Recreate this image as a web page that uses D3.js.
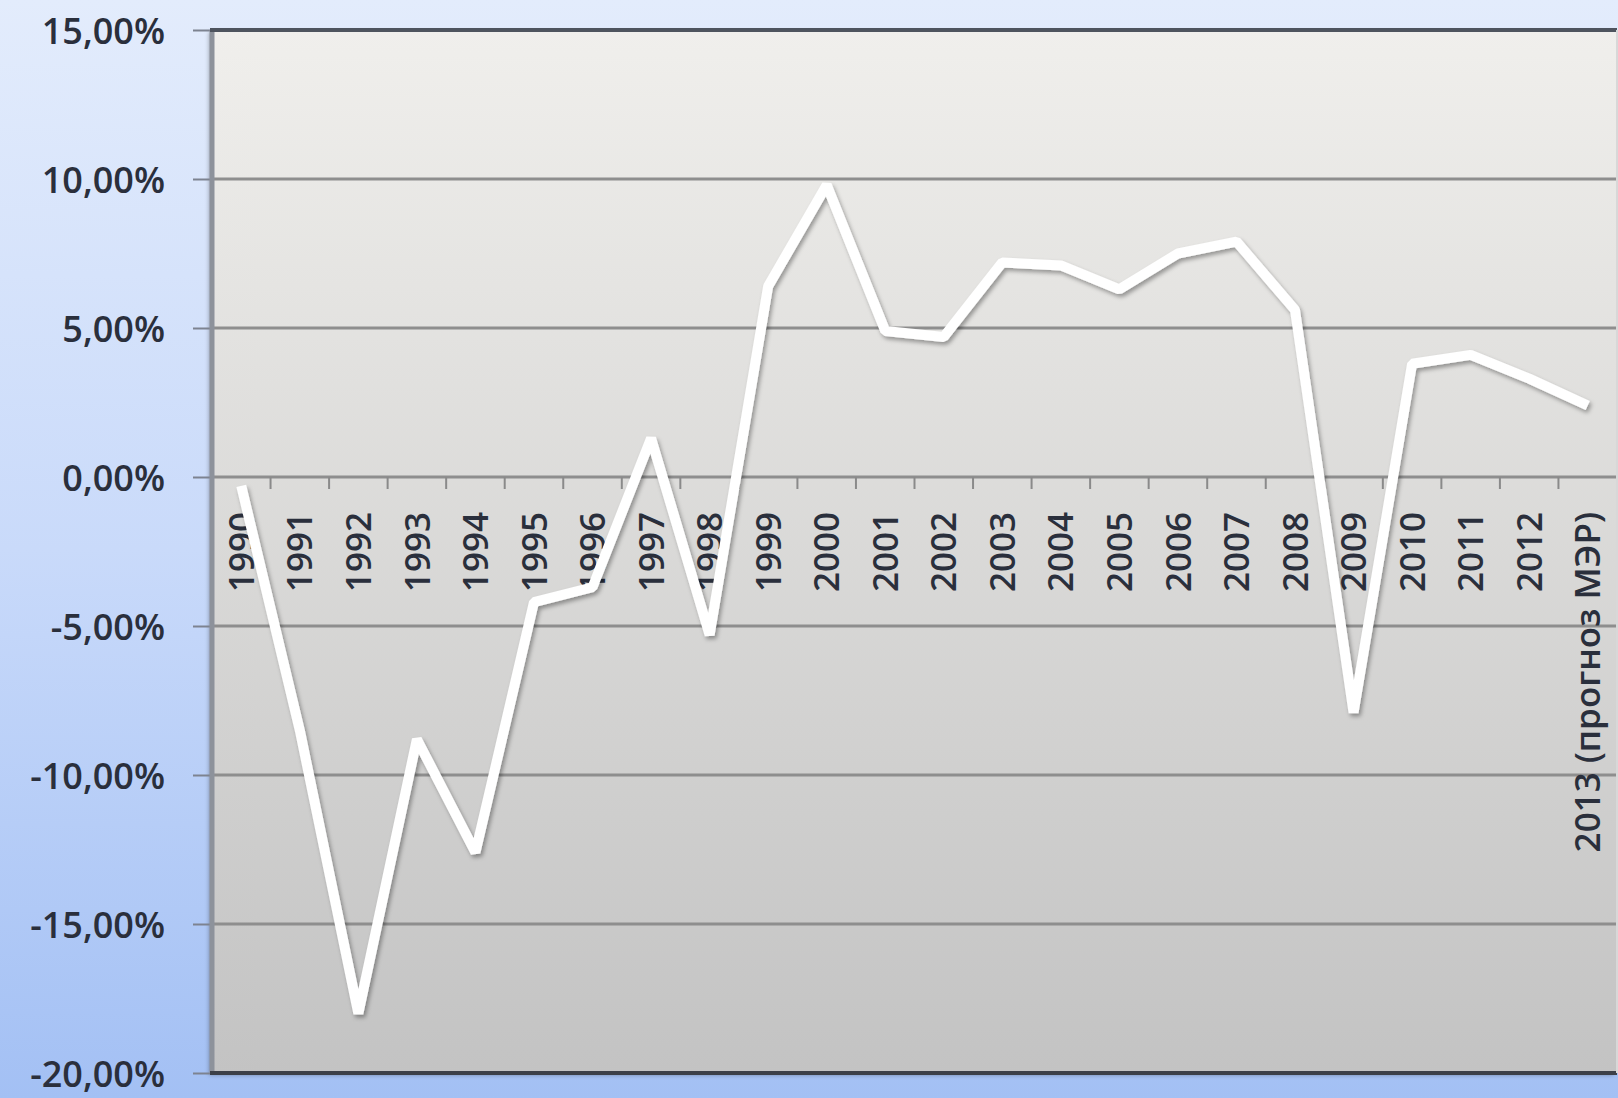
<!DOCTYPE html>
<html>
<head>
<meta charset="utf-8">
<script src="https://cdn.jsdelivr.net/npm/d3@7"></script>
<style>
    html, body { margin: 0; padding: 0; overflow: hidden; }
    svg { display: block; }
</style>
</head>
<body>
<div id="chart"></div>
<script>
// годы (категории)
const years = ['1990', '1991', '1992', '1993', '1994', '1995', '1996', '1997', '1998', '1999',
    '2000', '2001', '2002', '2003', '2004', '2005', '2006', '2007', '2008', '2009',
    '2010', '2011', '2012', '2013 (прогноз МЭР)'];
// темп роста ВВП, %
const growth = [-0.3, -8.5, -18.0, -8.8, -12.6, -4.2, -3.7, 1.3, -5.3, 6.4,
    9.8, 4.9, 4.7, 7.2, 7.1, 6.3, 7.5, 7.9, 5.6, -7.9,
    3.8, 4.1, 3.3, 2.4];
// деления оси Y
const yTicks = [-20, -15, -10, -5, 0, 5, 10, 15];

const width = 1618;
const height = 1098;
const margin = { top: 30, left: 212, bottom: 25, right: 1 };

const ru = d3.formatLocale({ decimal: ',', thousands: ' ', grouping: [3], currency: ['', ''], minus: '-' });
const fmt = v => ru.format('.2f')(v) + '%';

const x = d3.scaleBand()
    .domain(years)
    .range([margin.left, width - margin.right])
    .paddingInner(0).paddingOuter(0);
const y = d3.scaleLinear()
    .domain([-20, 15])
    .range([height - margin.bottom, margin.top]);

const svg = d3.select('#chart')
    .append('svg')
    .attr('width', width)
    .attr('height', height);

const defs = svg.append('defs');
// фон диаграммы
const bg = defs.append('linearGradient').attr('id', 'bg')
    .attr('x1', 0).attr('y1', 0).attr('x2', 0).attr('y2', 1);
bg.append('stop').attr('offset', '0%').attr('stop-color', '#e3ecfc');
bg.append('stop').attr('offset', '50%').attr('stop-color', '#c9dafa');
bg.append('stop').attr('offset', '100%').attr('stop-color', '#a3c0f4');
// фон области построения
const pg = defs.append('linearGradient').attr('id', 'plotbg')
    .attr('x1', 0).attr('y1', 0).attr('x2', 0).attr('y2', 1);
pg.append('stop').attr('offset', '0%').attr('stop-color', '#f0efec');
pg.append('stop').attr('offset', '100%').attr('stop-color', '#c3c3c3');
// тень линии
defs.append('filter').attr('id', 'shadow')
    .attr('x', '-5%').attr('y', '-5%').attr('width', '110%').attr('height', '110%')
    .append('feDropShadow')
    .attr('dx', 2).attr('dy', 3).attr('stdDeviation', 2)
    .attr('flood-color', '#000').attr('flood-opacity', 0.35);
defs.append('filter').attr('id', 'frameShadow')
    .attr('x', '-5%').attr('y', '-5%').attr('width', '110%').attr('height', '110%')
    .append('feDropShadow')
    .attr('dx', -3).attr('dy', 2).attr('stdDeviation', 2)
    .attr('flood-color', '#000').attr('flood-opacity', 0.3);

svg.append('rect')
    .attr('width', width).attr('height', height)
    .attr('fill', 'url(#bg)');

const x0 = margin.left, x1 = width - margin.right;
const yTop = y(15), yBot = y(-20);

svg.append('rect')
    .attr('x', x0).attr('y', yTop)
    .attr('width', x1 - x0).attr('height', yBot - yTop)
    .attr('fill', 'url(#plotbg)')
    .attr('filter', 'url(#frameShadow)');

// сетка
svg.append('g')
    .selectAll('line')
    .data(yTicks.filter(d => d > -20 && d < 15))
    .join('line')
    .attr('x1', x0).attr('x2', x1)
    .attr('y1', d => y(d)).attr('y2', d => y(d))
    .attr('stroke', '#8e8e8e')
    .attr('stroke-width', 3);

// ось Y
const yAxis = g => g
    .attr('transform', `translate(${x0},0)`)
    .call(d3.axisLeft(y).tickValues(yTicks).tickFormat(fmt).tickSize(19).tickPadding(28))
    .call(g => g.select('.domain').remove())
    .call(g => g.selectAll('.tick line').attr('stroke', '#7d8390').attr('stroke-width', 2))
    .call(g => g.selectAll('.tick text')
        .attr('fill', '#2a2f3c')
        .attr('dy', '0.38em')
        .style('font-family', '"Open Sans", "Liberation Sans", sans-serif')
        .style('font-weight', 600)
        .style('font-size', '36px'));
svg.append('g').call(yAxis);

// деления оси X (между категориями)
svg.append('g')
    .selectAll('line')
    .data(years.slice(1))
    .join('line')
    .attr('x1', d => x(d)).attr('x2', d => x(d))
    .attr('y1', y(0)).attr('y2', y(0) + 12)
    .attr('stroke', '#8a8a8a')
    .attr('stroke-width', 2);

// подписи оси X
svg.append('g')
    .selectAll('text')
    .data(years)
    .join('text')
    .attr('transform', d => `translate(${x(d) + x.bandwidth() / 2},${y(0) + 35}) rotate(-90)`)
    .attr('text-anchor', 'end')
    .attr('dy', '0.36em')
    .attr('fill', '#2a2f3c')
    .style('font-family', '"Open Sans", "Liberation Sans", sans-serif')
    .style('font-weight', 600)
    .style('font-size', '35px')
    .text(d => d);

// рамка области построения
svg.append('line')
    .attr('x1', x0).attr('x2', x0).attr('y1', yTop).attr('y2', yBot)
    .attr('stroke', '#8d929b').attr('stroke-width', 5);
svg.append('line')
    .attr('x1', x0 - 2).attr('x2', x1).attr('y1', yTop).attr('y2', yTop)
    .attr('stroke', '#4e545e').attr('stroke-width', 4);
svg.append('line')
    .attr('x1', x0 - 2).attr('x2', x1).attr('y1', yBot).attr('y2', yBot)
    .attr('stroke', '#3c4048').attr('stroke-width', 4);
svg.append('line')
    .attr('x1', x1).attr('x2', x1).attr('y1', yTop).attr('y2', yBot)
    .attr('stroke', '#d8d8d8').attr('stroke-width', 2);

// линия
const line = d3.line()
    .x((d, i) => x(years[i]) + x.bandwidth() / 2)
    .y(d => y(d));

svg.append('path')
    .datum(growth)
    .attr('d', line)
    .attr('fill', 'none')
    .attr('stroke', '#ffffff')
    .attr('stroke-width', 10)
    .attr('stroke-linejoin', 'bevel')
    .attr('stroke-linecap', 'butt')
    .attr('filter', 'url(#shadow)');
</script>
</body>
</html>
